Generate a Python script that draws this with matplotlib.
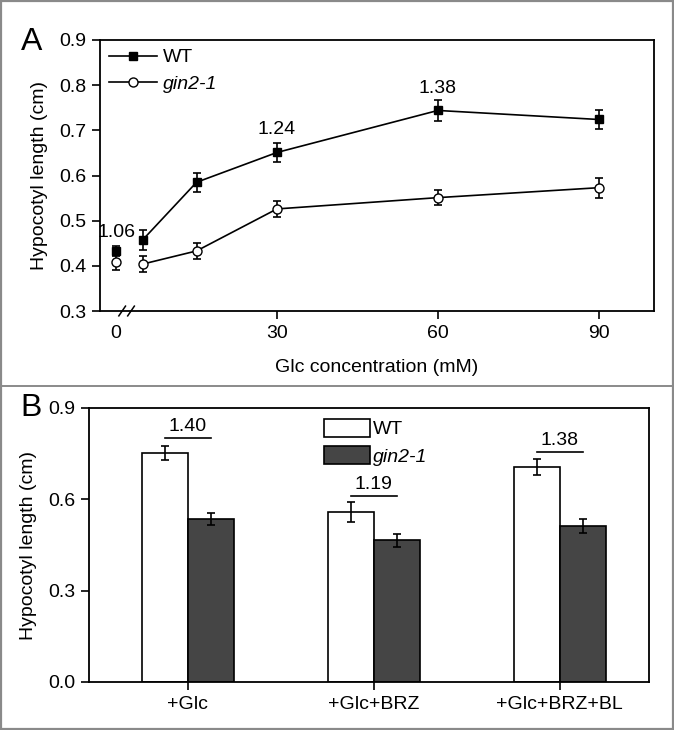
import matplotlib
matplotlib.use("Agg")
import matplotlib.pyplot as plt
from matplotlib.lines import Line2D
import numpy as np

plt.rcParams['font.family'] = ['Liberation Sans', 'DejaVu Sans']

# ---- Panel A data ----
glc_mM = [0, 5, 15, 30, 60, 90]
wt_len = [0.433, 0.458, 0.585, 0.651, 0.744, 0.724]
wt_err = [0.012, 0.022, 0.021, 0.021, 0.023, 0.021]
gin_len = [0.408, 0.404, 0.433, 0.526, 0.551, 0.573]
gin_err = [0.017, 0.017, 0.018, 0.017, 0.017, 0.022]
ratio_x = [0, 30, 60]
ratio_labels = ["1.06", "1.24", "1.38"]
ratio_y = [0.474, 0.702, 0.792]

# ---- Panel B data ----
treatments = ["+Glc", "+Glc+BRZ", "+Glc+BRZ+BL"]
wt_b = [0.752, 0.557, 0.706]
wt_b_err = [0.024, 0.033, 0.027]
gin_b = [0.535, 0.465, 0.513]
gin_b_err = [0.019, 0.020, 0.022]
b_ratio_labels = ["1.40", "1.19", "1.38"]
b_ratio_line_y = [0.801, 0.611, 0.756]

FS = 14

fig = plt.figure(figsize=(6.74, 7.30), dpi=100)

# ================= Panel A =================
axA = fig.add_axes([100/674, 1-311/730, 554/674, 271/730])
ekw = dict(color='black', capsize=2.8, elinewidth=1.2, capthick=1.2, zorder=3)
axA.errorbar(glc_mM[1:], wt_len[1:], yerr=wt_err[1:], lw=1.2,
             marker='s', ms=5.5, mfc='black', mec='black', **ekw)
axA.errorbar(glc_mM[:1], wt_len[:1], yerr=wt_err[:1], lw=0,
             marker='s', ms=5.5, mfc='black', mec='black', **ekw)
axA.errorbar(glc_mM[1:], gin_len[1:], yerr=gin_err[1:], lw=1.2,
             marker='o', ms=6.5, mfc='white', mec='black', **ekw)
axA.errorbar(glc_mM[:1], gin_len[:1], yerr=gin_err[:1], lw=0,
             marker='o', ms=6.5, mfc='white', mec='black', **ekw)
for xv, lab, yv in zip(ratio_x, ratio_labels, ratio_y):
    axA.text(xv, yv, lab, ha='center', va='center', fontsize=FS)

axA.set_xlim(-3, 100.3)
axA.set_ylim(0.3, 0.9)
yt = np.arange(0.3, 0.91, 0.1)
axA.set_yticks(yt)
axA.set_yticklabels([f"{v:.1f}" for v in yt])
axA.set_xticks([0, 30, 60, 90])
axA.set_xticklabels(["0", "30", "60", "90"])
axA.tick_params(axis='both', direction='out', length=6, width=1.2, labelsize=FS, pad=4)
axA.xaxis.get_major_ticks()[0].tick1line.set_visible(False)
for s in axA.spines.values():
    s.set_linewidth(1.3)
axA.set_xlabel("Glc concentration (mM)", fontsize=FS, labelpad=12)
axA.set_ylabel("Hypocotyl length (cm)", fontsize=FS, labelpad=8)
# axis break marks
for dx in (0.0, 0.016):
    axA.plot([0.034 + dx, 0.046 + dx], [-0.018, 0.018], transform=axA.transAxes,
             color='black', lw=1.1, clip_on=False)

h_wt = Line2D([], [], color='black', lw=1.2, marker='s', ms=5.5, mfc='black', mec='black')
h_gin = Line2D([], [], color='black', lw=1.2, marker='o', ms=6.5, mfc='white', mec='black')
legA = axA.legend([h_wt, h_gin], ["WT", "gin2-1"], loc='upper left', frameon=False,
                  fontsize=FS, handlelength=2.5, handletextpad=0.3, labelspacing=0.45,
                  borderaxespad=0.15, borderpad=0.3)
legA.get_texts()[1].set_style('italic')

fig.text(32/674, 1-42/730, "A", fontsize=23, ha='center', va='center')

# ================= Panel B =================
axB = fig.add_axes([89/674, 1-682/730, 560/674, 274/730])
x = np.arange(len(treatments))
w = 0.247
bkw = dict(ecolor='black', elinewidth=1.2, capsize=3.2, capthick=1.2)
axB.bar(x - w/2, wt_b, w, yerr=wt_b_err, color='white', edgecolor='black', lw=1.2,
        error_kw=bkw, label="WT", zorder=2)
axB.bar(x + w/2, gin_b, w, yerr=gin_b_err, color='#454545', edgecolor='black', lw=1.2,
        error_kw=bkw, label="gin2-1", zorder=2)
for xi, lab, ly in zip(x, b_ratio_labels, b_ratio_line_y):
    axB.plot([xi - w/2, xi + w/2], [ly, ly], color='black', lw=1.2)
    axB.text(xi, ly + 0.01, lab, ha='center', va='bottom', fontsize=FS)

axB.set_xlim(-0.53, 2.48)
axB.set_ylim(0.0, 0.9)
axB.set_yticks([0.0, 0.3, 0.6, 0.9])
axB.set_yticklabels(["0.0", "0.3", "0.6", "0.9"])
axB.set_xticks(x)
axB.set_xticklabels(treatments)
axB.tick_params(axis='both', direction='out', length=6, width=1.2, labelsize=FS, pad=4)
for s in axB.spines.values():
    s.set_linewidth(1.3)
axB.set_ylabel("Hypocotyl length (cm)", fontsize=FS, labelpad=8)
legB = axB.legend(loc='upper left', bbox_to_anchor=(0.405, 0.99), frameon=False,
                  fontsize=FS, handlelength=2.4, handleheight=1.05, handletextpad=0.15,
                  labelspacing=0.42, borderaxespad=0.0)
legB.get_texts()[1].set_style('italic')

fig.text(31/674, 1-408/730, "B", fontsize=23, ha='center', va='center')

# figure border and separator
fig.add_artist(plt.Rectangle((0.002, 0.002), 0.996, 0.996, transform=fig.transFigure,
                             fill=False, edgecolor='#8a8a8a', lw=1.6))
fig.add_artist(Line2D([0, 1], [1-386/730, 1-386/730], transform=fig.transFigure,
                      color='#8a8a8a', lw=1.4))

fig.savefig("out.png", dpi=100)
